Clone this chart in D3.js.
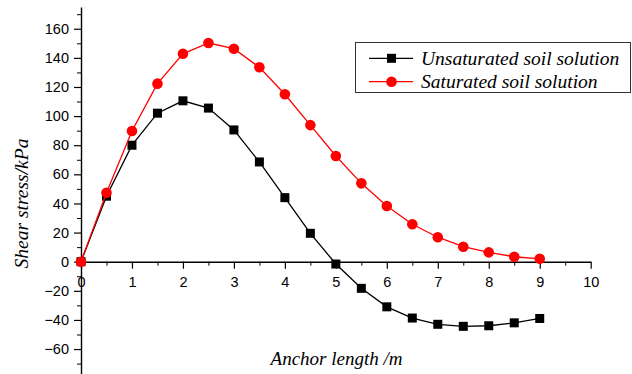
<!DOCTYPE html>
<html>
<head>
<meta charset="utf-8">
<script src="https://cdn.jsdelivr.net/npm/d3@7/dist/d3.min.js"></script>
<style>
  body { margin: 0; background: #fff; }
  svg { display: block; }
</style>
</head>
<body>
<script>
// Anchor length (m)
const lengths = [0, 0.5, 1, 1.5, 2, 2.5, 3, 3.5, 4, 4.5, 5, 5.5, 6, 6.5, 7, 7.5, 8, 8.5, 9];
// Shear stress (kPa)
const unsaturated = [0, 45, 80, 102, 110.5, 105.5, 90.5, 68.5, 44, 19.5, -1.6, -18.3, -31, -38.7, -43, -44.4, -44, -42, -39];
const saturated = [0, 47.4, 89.8, 122.3, 142.8, 150.2, 146.3, 133.5, 115, 93.8, 72.6, 53.8, 38.3, 25.7, 16.8, 10.3, 6.4, 3.4, 2];

const seriesNames = ['Unsaturated soil solution', 'Saturated soil solution'];
const xTicks = [0, 1, 2, 3, 4, 5, 6, 7, 8, 9, 10];
const yTicks = [-60, -40, -20, 0, 20, 40, 60, 80, 100, 120, 140, 160];

const serif = 'Liberation Serif';
const sans = 'Liberation Sans';

const W = 632, H = 374;
const svg = d3.select('body').append('svg')
    .attr('width', W)
    .attr('height', H);

const x = d3.scaleLinear().domain([0, 10]).range([81, 590.7]);
const y = d3.scaleLinear().domain([-77, 175]).range([373.8, 6.9]);

function styleTicks(g) {
    g.attr('font-family', sans).attr('font-size', 14.5);
    g.selectAll('text').attr('fill', '#000');
    g.selectAll('line').attr('stroke', '#000').attr('stroke-width', 1.2);
    g.select('.domain').attr('stroke', '#000').attr('stroke-width', 1.4);
}

// y axis: major + minor ticks pointing left
const yMinor = d3.range(-70, 175, 10).filter(v => v % 20 !== 0);
svg.append('g')
    .attr('transform', `translate(${x(0)},0)`)
    .call(d3.axisLeft(y).tickValues(yMinor).tickSize(4).tickFormat(''))
    .call(g => g.select('.domain').remove())
    .selectAll('line').attr('stroke', '#000');

svg.append('g')
    .attr('transform', `translate(${x(0)},0)`)
    .call(d3.axisLeft(y).tickValues(yTicks).tickSize(7).tickSizeOuter(0).tickPadding(5))
    .call(styleTicks);

// x axis at y = 0, ticks pointing down
svg.append('g')
    .attr('transform', `translate(0,${y(0)})`)
    .call(d3.axisBottom(x).tickValues(d3.range(0.5, 10, 1)).tickSize(4).tickFormat(''))
    .call(g => g.select('.domain').remove())
    .selectAll('line').attr('stroke', '#000');

svg.append('g')
    .attr('transform', `translate(0,${y(0)})`)
    .call(d3.axisBottom(x).tickValues(xTicks).tickSize(7).tickSizeOuter(0).tickPadding(8))
    .call(styleTicks);

// axis titles
svg.append('text')
    .attr('transform', `translate(28,${(132 + 275) / 2}) rotate(-90)`)
    .attr('text-anchor', 'middle')
    .attr('font-family', serif)
    .attr('font-style', 'italic')
    .attr('font-size', 19.5)
    .text('Shear stress/kPa');

svg.append('text')
    .attr('x', (271 + 402) / 2)
    .attr('y', 365)
    .attr('text-anchor', 'middle')
    .attr('font-family', serif)
    .attr('font-style', 'italic')
    .attr('font-size', 19)
    .text('Anchor length /m');

const line = d3.line()
    .x((d, i) => x(lengths[i]))
    .y(d => y(d));

// black squares series
svg.append('path')
    .datum(unsaturated)
    .attr('d', line)
    .attr('fill', 'none')
    .attr('stroke', '#000')
    .attr('stroke-width', 1.3);

svg.append('g').selectAll('rect')
    .data(unsaturated)
    .join('rect')
    .attr('x', (d, i) => x(lengths[i]) - 4.5)
    .attr('y', d => y(d) - 4.5)
    .attr('width', 9)
    .attr('height', 9)
    .attr('fill', '#000');

// red circles series
svg.append('path')
    .datum(saturated)
    .attr('d', line)
    .attr('fill', 'none')
    .attr('stroke', '#ff0000')
    .attr('stroke-width', 1.3);

svg.append('g').selectAll('circle')
    .data(saturated)
    .join('circle')
    .attr('cx', (d, i) => x(lengths[i]))
    .attr('cy', d => y(d))
    .attr('r', 5.3)
    .attr('fill', '#ff0000');

// legend
const legend = svg.append('g');
legend.append('rect')
    .attr('x', 355.5)
    .attr('y', 42.5)
    .attr('width', 275)
    .attr('height', 50)
    .attr('fill', '#fff')
    .attr('stroke', '#333')
    .attr('stroke-width', 1);

const rowY = [58.3, 81.7];
const colors = ['#000', '#ff0000'];
seriesNames.forEach((name, i) => {
    legend.append('line')
        .attr('x1', 369).attr('x2', 413)
        .attr('y1', rowY[i]).attr('y2', rowY[i])
        .attr('stroke', colors[i])
        .attr('stroke-width', 1.3);
    if (i === 0) {
        legend.append('rect')
            .attr('x', 391.5 - 4.5).attr('y', rowY[i] - 4.5)
            .attr('width', 9).attr('height', 9)
            .attr('fill', colors[i]);
    } else {
        legend.append('circle')
            .attr('cx', 391.5).attr('cy', rowY[i])
            .attr('r', 5.3)
            .attr('fill', colors[i]);
    }
    legend.append('text')
        .attr('x', 421)
        .attr('y', rowY[i] + 6.5)
        .attr('font-family', serif)
        .attr('font-style', 'italic')
        .attr('font-size', 19.5)
        .text(name);
});
</script>
</body>
</html>
